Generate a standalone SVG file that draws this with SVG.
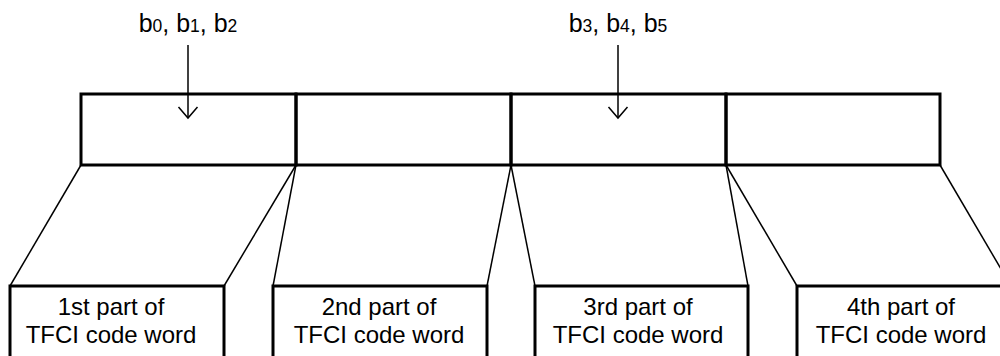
<svg xmlns="http://www.w3.org/2000/svg" width="1000" height="356" viewBox="0 0 1000 356">
<style>
.cell{fill:none;stroke:#000;stroke-width:3}
.conn{fill:none;stroke:#000;stroke-width:1.5}
.lbl{font-family:"Liberation Sans",Arial,sans-serif;font-size:24px;fill:#000;text-anchor:middle}
.top{font-family:"Liberation Sans",Arial,sans-serif;font-size:25px;fill:#000;text-anchor:middle}
.sub{font-size:17.5px}
</style>
<defs>
<marker id="arr" markerWidth="14" markerHeight="22" refX="12" refY="11" viewBox="0 0 14 22" markerUnits="userSpaceOnUse" orient="auto">
<path d="M1,1.5 L12,11 L1,20.5" fill="none" stroke="#000" stroke-width="1.5"/>
</marker>
</defs>
<rect width="1000" height="356" fill="#fff"/>
<g id="cell1"><rect class="cell" x="81" y="94" width="215" height="71"/></g>
<g id="cell2"><rect class="cell" x="296" y="94" width="215" height="71"/></g>
<g id="cell3"><rect class="cell" x="511" y="94" width="215" height="71"/></g>
<g id="cell4"><rect class="cell" x="726" y="94" width="214" height="71"/></g>
<g id="label1"><text class="top" x="188" y="32">b<tspan class="sub">0</tspan>, b<tspan class="sub">1</tspan>, b<tspan class="sub">2</tspan></text></g>
<g id="label2"><text class="top" x="618" y="32">b<tspan class="sub">3</tspan>, b<tspan class="sub">4</tspan>, b<tspan class="sub">5</tspan></text></g>
<g id="part1"><rect class="cell" x="10" y="286" width="214" height="100"/><text class="lbl" x="111" y="315">1st part of</text><text class="lbl" x="111" y="343">TFCI code word</text></g>
<g id="part2"><rect class="cell" x="273" y="286" width="214" height="100"/><text class="lbl" x="379" y="315">2nd part of</text><text class="lbl" x="379" y="343">TFCI code word</text></g>
<g id="part3"><rect class="cell" x="535" y="286" width="213" height="100"/><text class="lbl" x="638" y="315">3rd part of</text><text class="lbl" x="638" y="343">TFCI code word</text></g>
<g id="part4"><rect class="cell" x="797" y="286" width="214" height="100"/><text class="lbl" x="901" y="315">4th part of</text><text class="lbl" x="901" y="343">TFCI code word</text></g>
<g id="connectors">
<line class="conn" x1="188" y1="45" x2="188" y2="118" marker-end="url(#arr)"/>
<line class="conn" x1="618" y1="45" x2="618" y2="118" marker-end="url(#arr)"/>
<line class="conn" x1="81" y1="165" x2="10" y2="286"/>
<line class="conn" x1="296" y1="165" x2="224" y2="286"/>
<line class="conn" x1="296" y1="165" x2="273" y2="286"/>
<line class="conn" x1="511" y1="165" x2="487" y2="286"/>
<line class="conn" x1="511" y1="165" x2="535" y2="286"/>
<line class="conn" x1="726" y1="165" x2="748" y2="286"/>
<line class="conn" x1="726" y1="165" x2="797" y2="286"/>
<line class="conn" x1="940" y1="165" x2="1011" y2="286"/>
</g>
</svg>
